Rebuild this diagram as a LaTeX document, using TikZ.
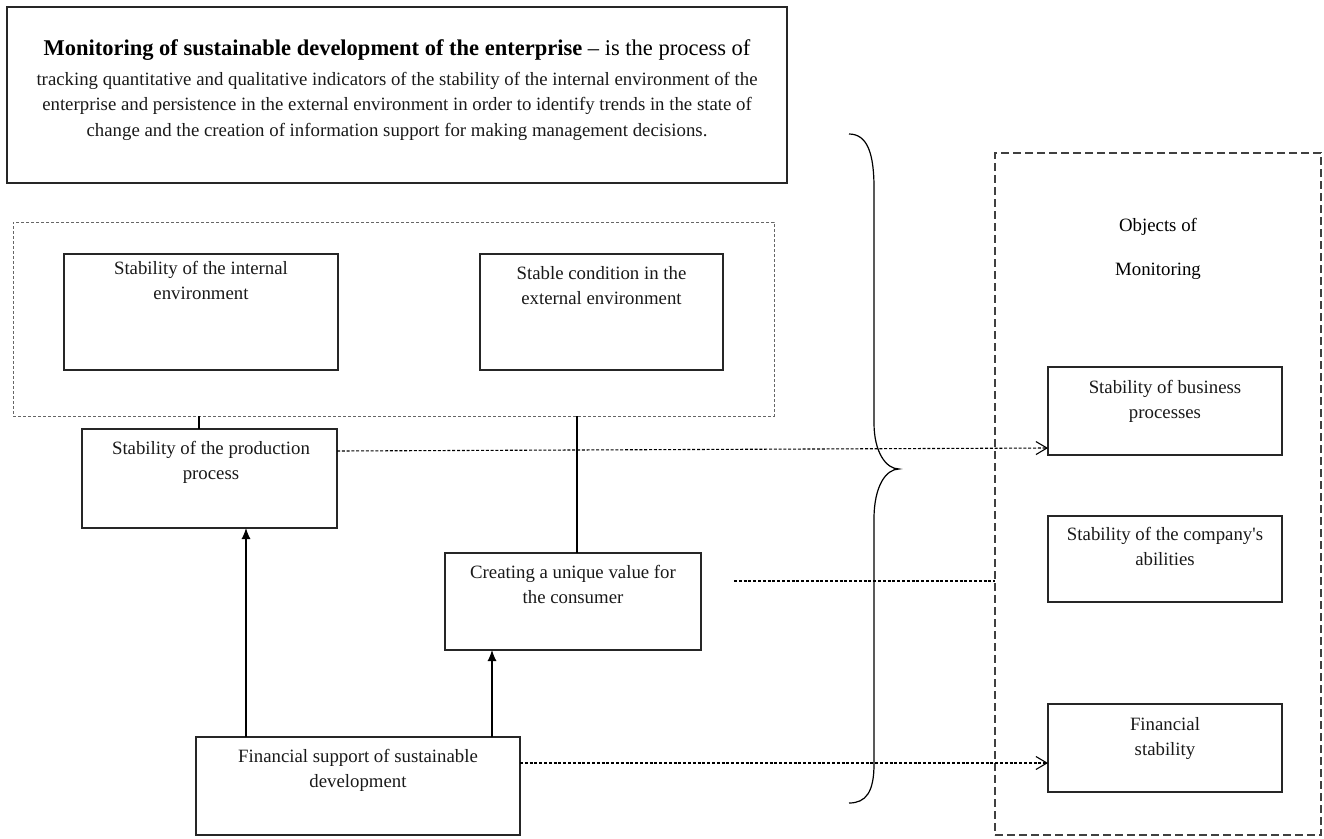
\documentclass[tikz,border=0pt]{standalone}
\usepackage{fontspec}
\setmainfont{Liberation Serif}
\usetikzlibrary{arrows.meta,calc}
\begin{document}
\begin{tikzpicture}[x=1pt,y=-1pt,
  bx/.style={draw=black!85,line width=1.2pt,rectangle,inner sep=0pt,outer sep=0pt},
  txt/.style={font=\fontsize{18.8}{25}\selectfont,align=center,inner sep=0pt,outer sep=0pt,anchor=north,text=black!90},
  grayframe/.style={draw=black!60,line width=0.9pt,dash pattern=on 3pt off 2pt,rectangle,inner sep=0pt,outer sep=0pt},
  darkframe/.style={draw=black!75,line width=1.2pt,dash pattern=on 8pt off 4pt,rectangle,inner sep=0pt,outer sep=0pt},
  solidline/.style={draw=black,line width=1.1pt},
  fillarrow/.style={draw=black,line width=1.1pt,-{Latex[length=11pt,width=9pt]}},
  dotline/.style={draw=black,line width=1.1pt,dash pattern=on 3pt off 1.8pt},
  dotarrow/.style={dotline,-{Straight Barb[length=11pt,width=13pt,line width=1.1pt]}},
  bracepath/.style={draw=black,line width=1.2pt}
]
\useasboundingbox (0,0) rectangle (1324,838);

% top definition box
\node[bx,minimum width=780pt,minimum height=176pt] (def) at (397,95) {};
\node[anchor=base,inner sep=0pt,font=\fontsize{22.5}{27}\selectfont] (defhead) at (397,55)
  {\textbf{Monitoring of sustainable development of the enterprise} – is the process of};
\node[txt,font=\fontsize{18.8}{25.5}\selectfont] (defbody) at (397,72)
  {tracking quantitative and qualitative indicators of the stability of the internal environment of the\\
   enterprise and persistence in the external environment in order to identify trends in the state of\\
   change and the creation of information support for making management decisions.};

% dotted container
\node[grayframe,minimum width=761pt,minimum height=194pt] (cont) at (393.5,319) {};
\node[bx,minimum width=274pt,minimum height=116pt] (intb) at (201,312) {};
\node[txt] (intt) at (201,261.2) {Stability of the internal\\environment};
\node[bx,minimum width=243pt,minimum height=116pt] (extb) at (601.5,312) {};
\node[txt] (extt) at (601.5,266.2) {Stable condition in the\\external environment};

% production, creating, financial support
\node[bx,minimum width=255pt,minimum height=99pt] (prod) at (209.5,478.5) {};
\node[txt] (prodt) at (211,441.2) {Stability of the production\\process};
\node[bx,minimum width=256pt,minimum height=97pt] (crea) at (573,601.5) {};
\node[txt] (creat) at (573,565.2) {Creating a unique value for\\the consumer};
\node[bx,minimum width=324pt,minimum height=98pt] (fin) at (358,786) {};
\node[txt] (fint) at (358,749.2) {Financial support of sustainable\\development};

% right container
\node[darkframe,minimum width=326pt,minimum height=682pt] (objs) at (1158,494) {};
\node[anchor=base,inner sep=0pt,font=\fontsize{18.8}{25}\selectfont] (objt1) at (1158,231) {Objects of};
\node[anchor=base,inner sep=0pt,font=\fontsize{18.8}{25}\selectfont] (objt2) at (1158,275) {Monitoring};
\node[bx,minimum width=234pt,minimum height=88pt] (bus) at (1165,411) {};
\node[txt] (bust) at (1165,380.2) {Stability of business\\processes};
\node[bx,minimum width=234pt,minimum height=86pt] (comp) at (1165,559) {};
\node[txt] (compt) at (1165,527.2) {Stability of the company\textquotesingle s\\abilities};
\node[bx,minimum width=234pt,minimum height=88pt] (fstab) at (1165,748) {};
\node[txt] (fstabt) at (1165,717.2) {Financial\\stability};

% helper coordinates
\coordinate (xa) at (199,0);
\coordinate (xb) at (577,0);
\coordinate (xc) at (246,0);
\coordinate (xd) at (492,0);
\coordinate (ya) at (0,451);
\coordinate (yb) at (0,448);
\coordinate (yc) at (0,763);
\coordinate (dl) at (734,581);

% connectors
\draw[solidline] (cont.south -| xa) -- (prod.north -| xa);
\draw[solidline] (cont.south -| xb) -- (crea.north -| xb);
\draw[fillarrow] (fin.north -| xc) -- (prod.south -| xc);
\draw[fillarrow] (fin.north -| xd) -- (crea.south -| xd);
\draw[dotarrow] (prod.east |- ya) -- (bus.west |- yb);
\draw[dotarrow] (fin.east |- yc) -- (fstab.west |- yc);
\draw[dotline] (dl) -- (objs.west |- dl);

% brace
\draw[bracepath] (849,134) .. controls (868,134) and (874,155) .. (874,188)
  -- (874,423) .. controls (874,452) and (886,469) .. (899,469)
  .. controls (886,469) and (874,486) .. (874,519)
  -- (874,764) .. controls (874,792) and (866,803) .. (849,803);
\end{tikzpicture}
\end{document}
